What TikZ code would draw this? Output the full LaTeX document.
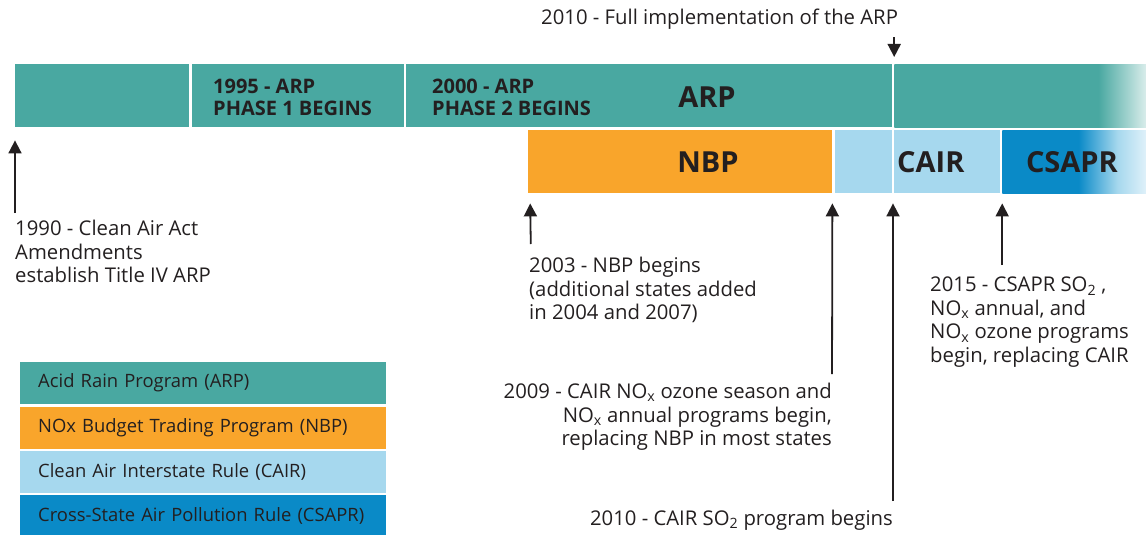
\documentclass[tikz,border=0pt]{standalone}
\usepackage{fontspec}
\setmainfont{Open Sans}
\usetikzlibrary{positioning,arrows.meta}

\definecolor{arpteal}{HTML}{49A8A1}
\definecolor{arpfade}{HTML}{DDEFED}
\definecolor{nbporange}{HTML}{F9A52B}
\definecolor{cairblue}{HTML}{A6D8EE}
\definecolor{cairfade}{HTML}{E2F2FA}
\definecolor{csaprblue}{HTML}{0A8AC7}
\definecolor{inkgray}{HTML}{231F20}

% fades at the open right end of the timeline
\pgfdeclarehorizontalshading{arpendshade}{100bp}{color(0bp)=(arpteal); color(65.3bp)=(arpteal); color(75bp)=(arpfade); color(100bp)=(arpfade)}
\pgfdeclarehorizontalshading{csaprendshade}{100bp}{color(0bp)=(csaprblue); color(51.2bp)=(csaprblue); color(64.7bp)=(cairblue); color(75bp)=(cairfade); color(100bp)=(cairfade)}

\tikzset{
	timeline/.style = {
		x = 1pt,
		y = -1pt,
		every node/.style = {inner sep = 0pt, text = inkgray},
		eventarrow/.style = {
			draw = inkgray,
			line width = 1.8pt,
			-{Triangle[width=13pt, length=13pt]},
			shorten >= 10pt,
		}
	},
	barseg/.style = {
		rectangle,
		minimum height = 63pt
	},
	barlabel/.style = {
		font = \fontsize{20}{22}\selectfont\bfseries,
		align = left
	},
	biglabel/.style = {
		font = \fontsize{29}{32}\selectfont\bfseries
	},
	eventtext/.style = {
		font = \fontsize{20.3}{23.5}\selectfont
	},
	legendrow/.style = {
		rectangle,
		minimum height = 42pt,
		text width = 330pt,
		inner xsep = 18pt,
		align = left,
		font = \fontsize{18.4}{22}\selectfont
	}
}

\begin{document}
\begin{tikzpicture}[timeline]
	\useasboundingbox (0,0) rectangle (1146,535);

	% ARP row
	\node[barseg, fill = arpteal, minimum width = 174pt, anchor = north west] (arpA) at (15,64) {};
	\node[barseg, fill = arpteal, minimum width = 212pt, right = 2pt of arpA] (arpB) {};
	\node[barseg, fill = arpteal, minimum width = 486pt, right = 2pt of arpB] (arpC) {};
	\node[barseg, shade, shading = arpendshade, minimum width = 253pt, right = 2pt of arpC] (arpD) {};

	% NBP, CAIR and CSAPR row
	\node[barseg, fill = nbporange, minimum width = 304pt, anchor = north west] (nbp) at (528,130) {};
	\node[barseg, fill = cairblue, minimum width = 57pt, right = 2pt of nbp] (cairA) {};
	\node[barseg, fill = cairblue, minimum width = 106pt, right = 2pt of cairA] (cairB) {};
	\node[barseg, shade, shading = csaprendshade, minimum width = 145pt, right = 2pt of cairB] (csapr) {};

	\node[barlabel, anchor = north west] (phase1) at (213,79) {1995 - ARP\\PHASE 1 BEGINS};
	\node[barlabel, anchor = north west] (phase2) at (432,79) {2000 - ARP\\PHASE 2 BEGINS};
	\node[biglabel] (larp) at (707,97) {ARP};
	\node[biglabel] (lnbp) at (708,162) {NBP};
	\node[biglabel, anchor = west] (lcair) at (897,162) {CAIR};
	\node[biglabel] (lcsapr) at ([xshift = -3pt]csapr.center) {CSAPR};

	% events
	\node[eventtext, anchor = base west] (tfull) at (541,25) {2010 - Full implementation of the ARP};
	\node[eventtext, anchor = north west, align = left] (t1990) at (15,220) {1990 - Clean Air Act\\Amendments\\establish Title IV ARP};
	\node[eventtext, anchor = north west, align = left] (t2003) at (529,257) {2003 - NBP begins\\(additional states added\\in 2004 and 2007)};
	\node[eventtext, anchor = north east, align = right] (t2009) at (832,383) {2009 - CAIR NO\textsubscript{x} ozone season and\\NO\textsubscript{x} annual programs begin,\\replacing NBP in most states};
	\node[eventtext, anchor = north east] (tso2) at (893,510) {2010 - CAIR SO\textsubscript{2} program begins};
	\node[eventtext, anchor = north west, align = left] (t2015) at (930,277) {2015 - CSAPR SO\textsubscript{2} ,\\NO\textsubscript{x} annual, and\\NO\textsubscript{x} ozone programs\\begin, replacing CAIR};

	% legend
	\node[legendrow, fill = arpteal, anchor = north west] (lgarp) at (20,362) {Acid Rain Program (ARP)};
	\node[legendrow, fill = nbporange, below = 2pt of lgarp] (lgnbp) {NOx Budget Trading Program (NBP)};
	\node[legendrow, fill = cairblue, below = 2pt of lgnbp] (lgcair) {Clean Air Interstate Rule (CAIR)};
	\node[legendrow, fill = csaprblue, below = 2pt of lgcair] (lgcsapr) {Cross-State Air Pollution Rule (CSAPR)};

	\begin{scope}[every path/.style = eventarrow]
		\path[shorten <= 7pt, shorten >= 7pt] (tfull.south -| arpD.north west) to (arpD.north west);
		\path[shorten <= 7pt, shorten >= 13pt] (t1990.north west) to (arpA.south west);
		\path[shorten <= 13pt] ([xshift = 2pt]t2003.north west) to ([xshift = 2pt]nbp.south west);
		\path[shorten <= 9pt] (t2009.north east) to (nbp.south east);
		\path[shorten <= 9pt] (tso2.north east) to (tso2.north east |- cairB.south);
		\path[shorten <= 12pt] (t2015.north -| csapr.south west) to (csapr.south west);
	\end{scope}
\end{tikzpicture}
\end{document}
